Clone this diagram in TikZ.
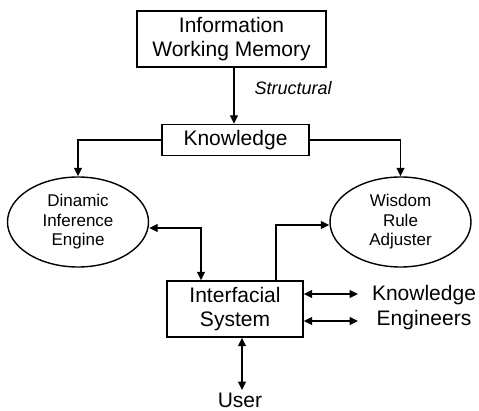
\documentclass[tikz,border=0pt]{standalone}
\usepackage{fontspec}
\setmainfont{Liberation Sans}
\usetikzlibrary{arrows.meta,shapes.geometric}
\begin{document}
\begin{tikzpicture}[x=1pt,y=-1pt,
  line width=1.4pt,
  tip/.style={-{Triangle[length=8.5pt,width=8pt]}},
  twotip/.style={{Triangle[length=8.5pt,width=8pt]}-{Triangle[length=8.5pt,width=8pt]}},
  boxnode/.style={draw,rectangle,inner sep=0pt,align=center,font=\fontsize{21}{24}\selectfont},
  ovalnode/.style={draw,ellipse,inner sep=0pt,align=center,font=\fontsize{17}{19.5}\selectfont},
  plaintext/.style={inner sep=0pt,align=center,font=\fontsize{21}{25}\selectfont}]
\useasboundingbox (0,0) rectangle (479,411);
% boxes
\node[boxnode,minimum width=189pt,minimum height=56pt] (info) at (231.5,39) {Information\\Working Memory};
\node[boxnode,minimum width=147pt,minimum height=31pt] (know) at (235.5,140) {Knowledge};
\node[boxnode,minimum width=136pt,minimum height=56pt] (inter) at (235,309) {Interfacial\\System};
% ellipses
\node[ovalnode,minimum width=141pt,minimum height=90pt] (die) at (78,222) {Dinamic\\Inference\\Engine};
\node[ovalnode,minimum width=141pt,minimum height=90pt] (wra) at (400.5,222) {Wisdom\\Rule\\Adjuster};
% free labels
\node[plaintext] (ke) at (424,308) {Knowledge\\Engineers};
\node[plaintext,anchor=base] (user) at (240,407) {User};
\node[inner sep=0pt,font=\fontsize{18}{20}\selectfont\itshape,anchor=west] (struct) at (254,88) {Structural};
% guide points for the bent and offset connectors
\coordinate (c1) at (234,0);
\coordinate (c2) at (0,228);
\coordinate (c3) at (201,0);
\coordinate (c4) at (0,225);
\coordinate (c5) at (276,0);
\coordinate (ke1) at (358,294);
\coordinate (ke2) at (358,321);
\coordinate (userend) at (242,390);
% connectors
\draw[tip] (info.south -| c1) -- (know.north -| c1);
\draw[tip] (know.west) -| (die.north);
\draw[tip] (know.east) -| (wra.north);
\draw[twotip] (die.east |- c2) -| (inter.north -| c3);
\draw[tip] (inter.north -| c5) |- (wra.west |- c4);
\draw[twotip] (inter.east |- ke1) -- (ke1);
\draw[twotip] (inter.east |- ke2) -- (ke2);
\draw[twotip] (inter.south -| userend) -- (userend);
\end{tikzpicture}
\end{document}
